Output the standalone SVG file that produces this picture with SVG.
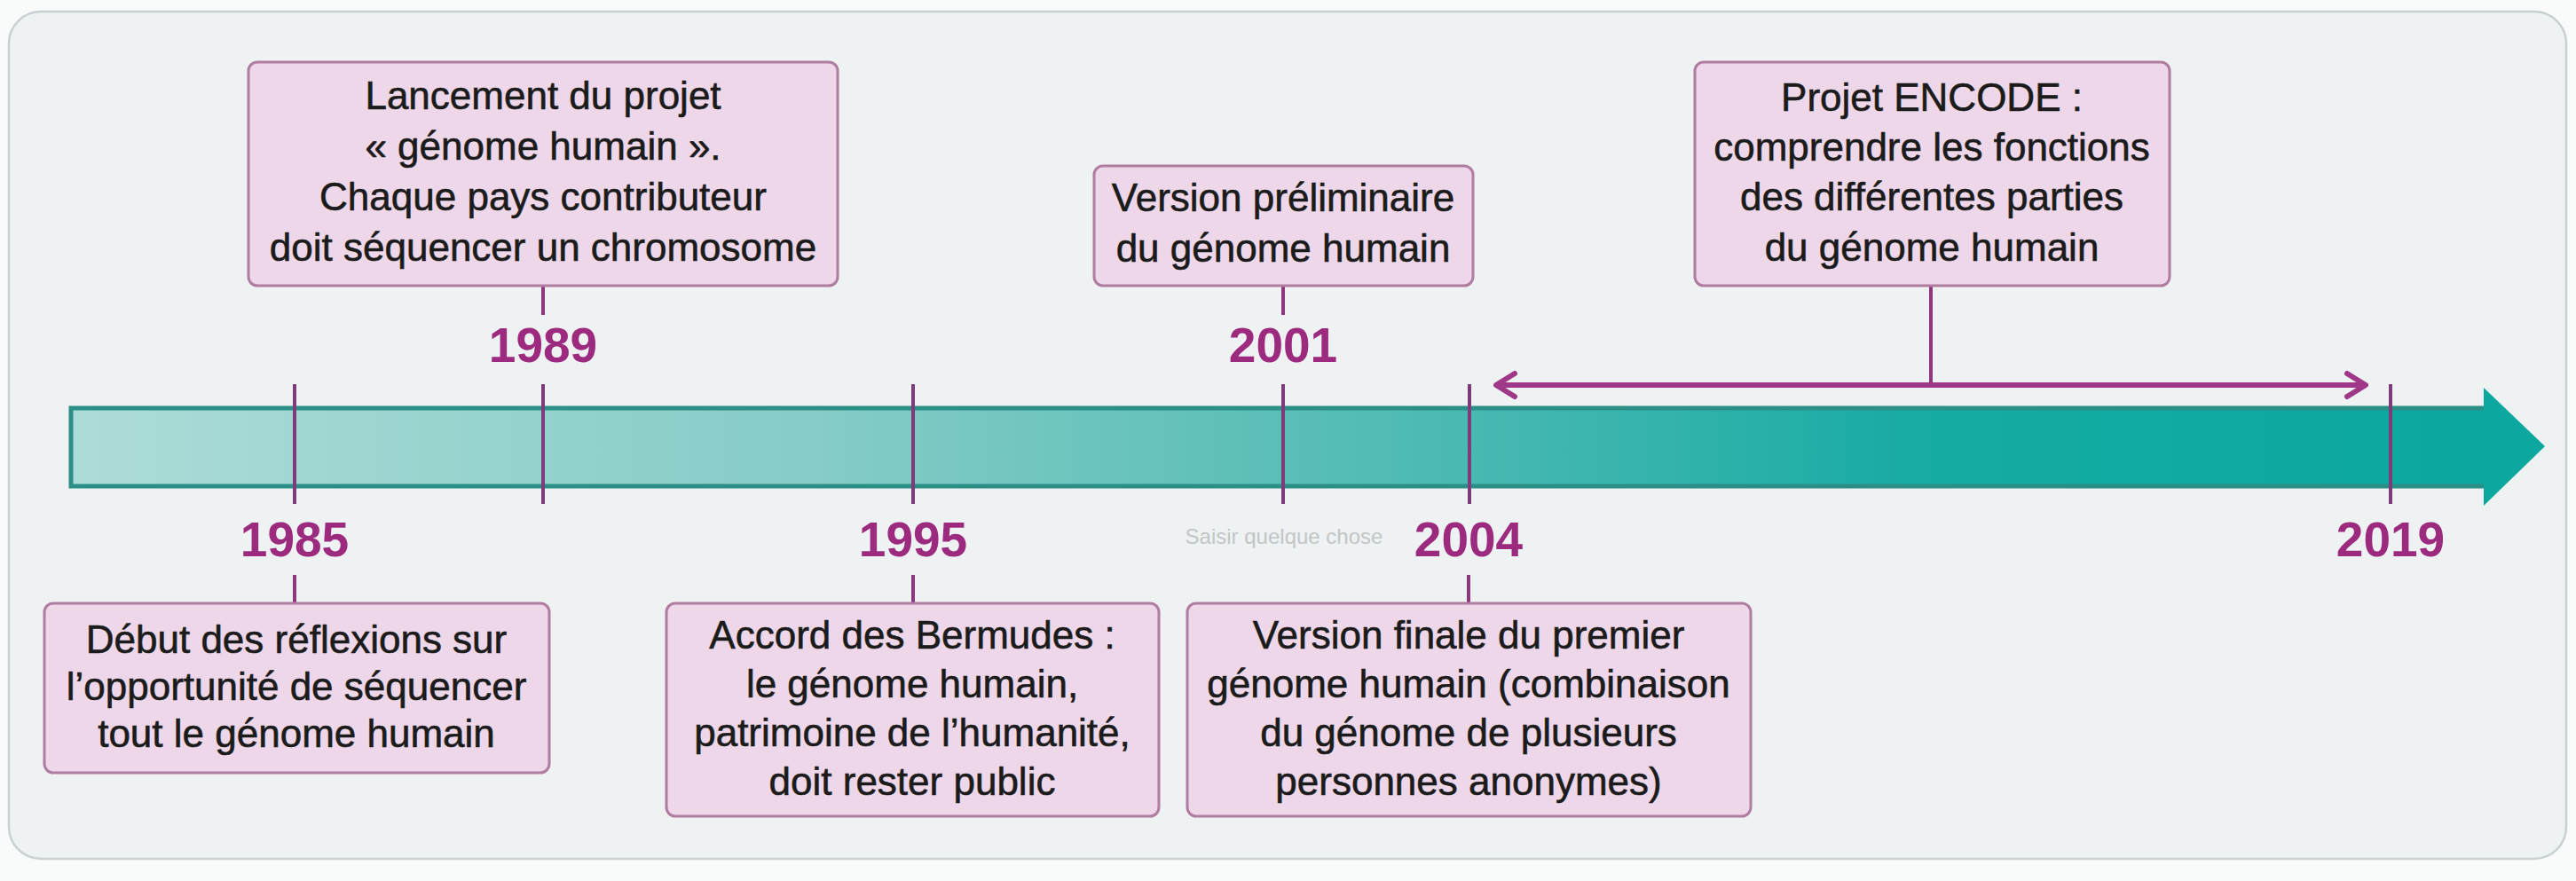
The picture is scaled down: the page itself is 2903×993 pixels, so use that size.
<svg xmlns="http://www.w3.org/2000/svg" width="2903" height="993" viewBox="0 0 2903 993">
  <defs>
    <linearGradient id="barGrad" x1="80" y1="0" x2="2868" y2="0" gradientUnits="userSpaceOnUse">
      <stop offset="0" stop-color="#ADDCD8"/>
      <stop offset="0.3" stop-color="#86CCC7"/>
      <stop offset="0.55" stop-color="#4DBAB3"/>
      <stop offset="0.75" stop-color="#16ABA3"/>
      <stop offset="1" stop-color="#0AA79F"/>
    </linearGradient>
    <marker id="chev" markerUnits="userSpaceOnUse" viewBox="-30 -20 40 40" refX="0" refY="0" markerWidth="40" markerHeight="40" orient="auto-start-reverse">
      <path d="M -21 -13 L 0 0 L -21 13" fill="none" stroke="#A0388A" stroke-width="6" stroke-linecap="round" stroke-linejoin="round"/>
    </marker>
  </defs>
  <style>
    .box { fill: #EDD7E9; stroke: #B07CA0; stroke-width: 3; }
    .txt { font-family: "Liberation Sans", Arial, sans-serif; font-size: 44px; fill: #1B1B1B; stroke: #1B1B1B; stroke-width: 0.6; text-anchor: middle; }
    .year { font-family: "Liberation Sans", Arial, sans-serif; font-size: 55px; font-weight: bold; fill: #9C2A7E; text-anchor: middle; }
    .tick { stroke: #7F3A79; stroke-width: 4; fill: none; }
    .link { stroke: #8E3680; stroke-width: 4; fill: none; }
    .span { stroke: #A0388A; stroke-width: 6; fill: none; }
    .hint { font-family: "Liberation Sans", Arial, sans-serif; font-size: 24px; fill: #C2C6C6; text-anchor: middle; }
  </style>

  <rect x="0" y="0" width="2903" height="993" fill="#F9FBFB"/>
  <rect x="10" y="13" width="2882" height="955" rx="36" fill="#EEF2F2" stroke="#C8D0D2" stroke-width="2.5"/>

  <g id="timeline-bar">
    <rect x="80" y="460" width="2722" height="88" fill="url(#barGrad)" stroke="#2B8E87" stroke-width="5"/>
    <polygon points="2799,437 2868,503 2799,570" fill="#0CA79F"/>
  </g>

  <g id="connectors">
    <line class="tick" x1="332" y1="433" x2="332" y2="568"/>
    <line class="tick" x1="612" y1="433" x2="612" y2="568"/>
    <line class="tick" x1="1029" y1="433" x2="1029" y2="568"/>
    <line class="tick" x1="1446" y1="433" x2="1446" y2="568"/>
    <line class="tick" x1="1656" y1="433" x2="1656" y2="568"/>
    <line class="tick" x1="2694" y1="433" x2="2694" y2="568"/>
    <line class="link" x1="612" y1="322" x2="612" y2="355"/>
    <line class="link" x1="1446" y1="322" x2="1446" y2="355"/>
    <line class="link" x1="332" y1="648" x2="332" y2="680"/>
    <line class="link" x1="1029" y1="648" x2="1029" y2="680"/>
    <line class="link" x1="1655" y1="648" x2="1655" y2="680"/>
    <line class="link" x1="2176" y1="322" x2="2176" y2="434"/>
    <line class="span" x1="1686" y1="434" x2="2666" y2="434" marker-start="url(#chev)" marker-end="url(#chev)"/>
  </g>

  <g id="years">
    <text class="year" x="332" y="627">1985</text>
    <text class="year" x="612" y="408">1989</text>
    <text class="year" x="1029" y="627">1995</text>
    <text class="year" x="1446" y="408">2001</text>
    <text class="year" x="1655" y="627">2004</text>
    <text class="year" x="2694" y="627">2019</text>
  </g>

  <text class="hint" x="1447" y="613">Saisir quelque chose</text>

  <g id="node-1989">
    <rect class="box" x="280" y="70" width="664" height="252" rx="10"/>
    <text class="txt" x="612" y="123">Lancement du projet</text>
    <text class="txt" x="612" y="180">« génome humain ».</text>
    <text class="txt" x="612" y="237">Chaque pays contributeur</text>
    <text class="txt" x="612" y="294">doit séquencer un chromosome</text>
  </g>

  <g id="node-2001">
    <rect class="box" x="1233" y="187" width="427" height="135" rx="10"/>
    <text class="txt" x="1446" y="238">Version préliminaire</text>
    <text class="txt" x="1446" y="295">du génome humain</text>
  </g>

  <g id="node-encode">
    <rect class="box" x="1910" y="70" width="535" height="252" rx="10"/>
    <text class="txt" x="2177" y="125">Projet ENCODE :</text>
    <text class="txt" x="2177" y="181">comprendre les fonctions</text>
    <text class="txt" x="2177" y="237">des différentes parties</text>
    <text class="txt" x="2177" y="294">du génome humain</text>
  </g>

  <g id="node-1985">
    <rect class="box" x="50" y="680" width="569" height="191" rx="10"/>
    <text class="txt" x="334" y="736">Début des réflexions sur</text>
    <text class="txt" x="334" y="789">l’opportunité de séquencer</text>
    <text class="txt" x="334" y="842">tout le génome humain</text>
  </g>

  <g id="node-1995">
    <rect class="box" x="751" y="680" width="555" height="240" rx="10"/>
    <text class="txt" x="1028" y="731">Accord des Bermudes :</text>
    <text class="txt" x="1028" y="786">le génome humain,</text>
    <text class="txt" x="1028" y="841">patrimoine de l’humanité,</text>
    <text class="txt" x="1028" y="896">doit rester public</text>
  </g>

  <g id="node-2004">
    <rect class="box" x="1338" y="680" width="635" height="240" rx="10"/>
    <text class="txt" x="1655" y="731">Version finale du premier</text>
    <text class="txt" x="1655" y="786">génome humain (combinaison</text>
    <text class="txt" x="1655" y="841">du génome de plusieurs</text>
    <text class="txt" x="1655" y="896">personnes anonymes)</text>
  </g>
</svg>
